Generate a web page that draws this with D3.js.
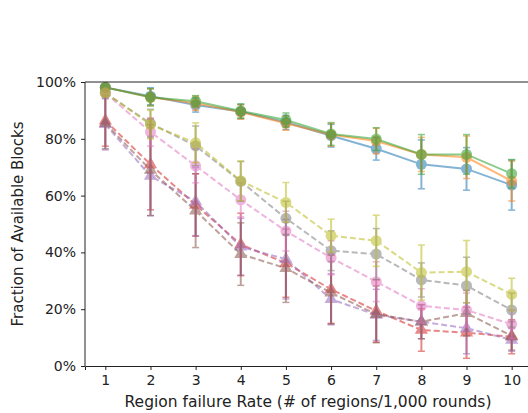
<!DOCTYPE html>
<html>
<head>
<meta charset="utf-8">
<script src="https://cdn.jsdelivr.net/npm/d3@7"></script>
<style>
  body { margin: 0; background: #fff; }
  text { font-family: "DejaVu Sans", sans-serif; }
</style>
</head>
<body>
<script>
// failure rate chart

var rates = [1, 2, 3, 4, 5, 6, 7, 8, 9, 10];
var yTicks = [0, 0.2, 0.4, 0.6, 0.8, 1.0];

// series in plotting order (tab10 cycle)
var blueVals   = [0.981, 0.950, 0.919, 0.896, 0.858, 0.811, 0.765, 0.710, 0.694, 0.637];
var blueErr    = [0.010, 0.030, 0.025, 0.025, 0.025, 0.040, 0.040, 0.086, 0.075, 0.088];
var orangeVals = [0.981, 0.946, 0.925, 0.894, 0.855, 0.814, 0.792, 0.745, 0.735, 0.651];
var orangeErr  = [0.010, 0.030, 0.025, 0.025, 0.025, 0.040, 0.045, 0.060, 0.075, 0.070];
var greenVals  = [0.981, 0.946, 0.932, 0.898, 0.866, 0.817, 0.799, 0.745, 0.745, 0.677];
var greenErr   = [0.010, 0.030, 0.020, 0.025, 0.025, 0.040, 0.040, 0.070, 0.070, 0.050];
var redVals    = [0.864, 0.710, 0.567, 0.428, 0.362, 0.270, 0.194, 0.127, 0.117, 0.103];
var redErr     = [0.090, 0.160, 0.110, 0.110, 0.120, 0.120, 0.110, 0.075, 0.090, 0.060];
var purpleVals = [0.851, 0.669, 0.579, 0.420, 0.376, 0.235, 0.180, 0.156, 0.133, 0.092];
var purpleErr  = [0.090, 0.140, 0.120, 0.100, 0.140, 0.090, 0.090, 0.060, 0.090, 0.040];
var brownVals  = [0.855, 0.690, 0.547, 0.394, 0.344, 0.258, 0.182, 0.156, 0.186, 0.106];
var brownErr   = [0.090, 0.160, 0.130, 0.110, 0.120, 0.110, 0.100, 0.060, 0.080, 0.050];
var pinkVals   = [0.962, 0.824, 0.705, 0.585, 0.475, 0.381, 0.297, 0.212, 0.197, 0.147];
var pinkErr    = [0.010, 0.050, 0.060, 0.060, 0.070, 0.060, 0.070, 0.060, 0.060, 0.050];
var grayVals   = [0.962, 0.854, 0.775, 0.650, 0.520, 0.406, 0.394, 0.303, 0.283, 0.197];
var grayErr    = [0.010, 0.050, 0.070, 0.070, 0.060, 0.070, 0.090, 0.060, 0.100, 0.060];
var oliveVals  = [0.962, 0.850, 0.786, 0.652, 0.576, 0.459, 0.441, 0.329, 0.332, 0.252];
var oliveErr   = [0.010, 0.050, 0.070, 0.070, 0.070, 0.058, 0.090, 0.097, 0.110, 0.057];

var series = [
  {vals: blueVals,   err: blueErr,   color: "#1f77b4", dashed: false, marker: "circle"},
  {vals: orangeVals, err: orangeErr, color: "#ff7f0e", dashed: false, marker: "circle"},
  {vals: greenVals,  err: greenErr,  color: "#2ca02c", dashed: false, marker: "circle"},
  {vals: redVals,    err: redErr,    color: "#d62728", dashed: true,  marker: "triangle"},
  {vals: purpleVals, err: purpleErr, color: "#9467bd", dashed: true,  marker: "triangle"},
  {vals: brownVals,  err: brownErr,  color: "#8c564b", dashed: true,  marker: "triangle"},
  {vals: pinkVals,   err: pinkErr,   color: "#e377c2", dashed: true,  marker: "circle"},
  {vals: grayVals,   err: grayErr,   color: "#7f7f7f", dashed: true,  marker: "circle"},
  {vals: oliveVals,  err: oliveErr,  color: "#bcbd22", dashed: true,  marker: "circle"}
];

var svg = d3.select("body").append("svg").attr("width", 528).attr("height", 413);

var mLeft = 85, mTop = 82, mBottom = 366;
var xScale = d3.scaleLinear().domain([0.55, 10.45]).range([mLeft, 532]);
var yScale = d3.scaleLinear().domain([0, 1]).range([mBottom, mTop]);

var plotG = svg.append("g");

var line = d3.line()
  .x(function(d, i){ return xScale(rates[i]); })
  .y(function(d){ return yScale(d); });

series.forEach(function(s){
  var g = plotG.append("g").attr("opacity", 0.55);

  // error bars
  s.vals.forEach(function(v, i){
    var x = xScale(rates[i]);
    var y1 = yScale(v - s.err[i]), y2 = yScale(v + s.err[i]);
    g.append("line").attr("x1", x).attr("x2", x).attr("y1", y1).attr("y2", y2)
      .style("stroke", s.color).style("stroke-width", "2px");
    [y1, y2].forEach(function(yy){
      g.append("line").attr("x1", x - 3.5).attr("x2", x + 3.5).attr("y1", yy).attr("y2", yy)
        .style("stroke", s.color).style("stroke-width", "1.5px");
    });
  });

  g.append("path")
    .datum(s.vals)
    .attr("d", line)
    .style("fill", "none")
    .style("stroke", s.color)
    .style("stroke-width", "2px")
    .style("stroke-dasharray", s.dashed ? "6,3" : null);

  var sym = d3.symbol().type(s.marker == "triangle" ? d3.symbolTriangle : d3.symbolCircle)
    .size(s.marker == "triangle" ? 75 : 95);
  g.selectAll(".pt")
    .data(s.vals)
    .enter()
    .append("path")
    .attr("d", sym)
    .attr("transform", function(d, i){ return "translate(" + xScale(rates[i]) + "," + yScale(d) + ")"; })
    .style("fill", s.color);
});

// axes
var xAxis = d3.axisBottom(xScale).tickValues(rates).tickSizeOuter(0).tickSize(4).tickPadding(5);
var gx = svg.append("g").attr("transform", "translate(0," + mBottom + ")").call(xAxis);
var yAxis = d3.axisLeft(yScale).tickValues(yTicks).tickFormat(d3.format(".0%")).tickSizeOuter(0).tickSize(4).tickPadding(5);
var gy = svg.append("g").attr("transform", "translate(" + mLeft + ",0)").call(yAxis);
[gx, gy].forEach(function(g){
  g.selectAll("text").style("font-size", "14px").style("fill", "#222");
  g.selectAll("line").style("stroke", "#222").style("stroke-width", "1px");
  g.select(".domain").style("stroke", "#222").style("stroke-width", "1px");
});
svg.append("line").attr("x1", mLeft).attr("x2", 528).attr("y1", mTop).attr("y2", mTop)
  .style("stroke", "#222").style("stroke-width", "1px");
gy.select(".domain").attr("d", "M0," + mBottom + "V" + mTop);

svg.append("text").attr("x", 308).attr("y", 407).attr("text-anchor", "middle")
  .style("font-size", "15.5px").style("fill", "#222")
  .text("Region failure Rate (# of regions/1,000 rounds)");
svg.append("text").attr("transform", "translate(23," + ((mTop + mBottom) / 2) + ") rotate(-90)")
  .attr("text-anchor", "middle")
  .style("font-size", "15px").style("fill", "#222")
  .text("Fraction of Available Blocks");
</script>
</body>
</html>
